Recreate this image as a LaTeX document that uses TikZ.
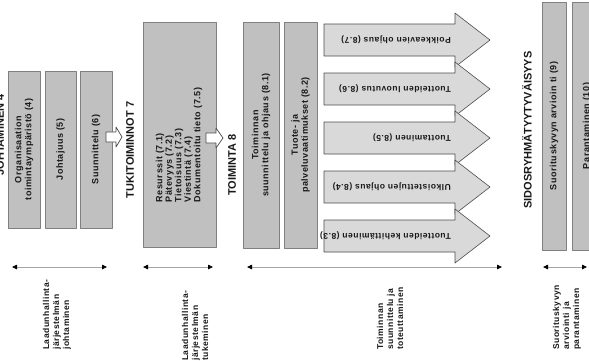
\documentclass[tikz,border=0pt]{standalone}
\usepackage{fontspec}
\setmainfont{Liberation Sans}
\newfontfamily\spacedfont{Liberation Sans}[LetterSpace=6]
\usetikzlibrary{arrows.meta}
\definecolor{boxgray}{RGB}{192,192,192}
\definecolor{arrowgray}{RGB}{217,217,217}
\definecolor{edgegray}{RGB}{128,128,128}
\definecolor{inkgray}{RGB}{25,25,25}

\begin{document}
\begin{tikzpicture}[line cap=round,line join=round,x=1pt,y=-1pt,
  box/.style={draw=edgegray,fill=boxgray,line width=0.9pt,rotate=90,inner sep=1pt,
    align=center,text=inkgray,font=\spacedfont\fontsize{9}{10}\selectfont\bfseries},
  heading/.style={rotate=90,inner sep=0pt,text=inkgray,font=\fontsize{11}{13}\selectfont\bfseries},
  inarrow/.style={rotate=180,anchor=west,inner sep=0pt,text=inkgray,font=\spacedfont\fontsize{8.5}{10}\selectfont\bfseries},
  foot/.style={rotate=90,anchor=west,inner sep=0pt,align=left,text=inkgray,font=\spacedfont\fontsize{8.5}{10}\selectfont\bfseries},
  bigarrow/.style={draw=black!70,fill=arrowgray,line width=0.6pt},
  smallarrow/.style={draw=black!70,fill=white,line width=0.7pt},
  span/.style={{Triangle[length=5pt,width=4.5pt,color=black]}-{Triangle[length=5pt,width=4.5pt,color=black]},draw=gray!70,line width=0.8pt}]
\useasboundingbox (0,0) rectangle (589,360);
\clip (0,0) rectangle (589,360);
% JOHTAMINEN 4
\node[heading] (hjoh) at (0,135) {JOHTAMINEN 4};
\node[box,minimum width=157pt,minimum height=32pt] (org) at (24,149.5) {Organisaation\\toimintaympäristö (4)};
\node[box,minimum width=157pt,minimum height=31pt] (joht) at (60.5,149.5) {Johtajuus (5)};
\node[box,minimum width=157pt,minimum height=32pt] (suun) at (96,149.5) {Suunnittelu (6)};
\draw[smallarrow] (106,132)-- (116,132)-- (116,127)-- (122,137)-- (116,147)-- (116,142)-- (106,142)-- cycle;
% TUKITOIMINNOT 7
\node[heading] (htuki) at (130,150) {TUKITOIMINNOT 7};
\node[box,minimum width=225pt,minimum height=73pt] (tuki) at (179.5,134.5) {};
\node[rotate=90,align=left,inner sep=0pt,text=inkgray,font=\spacedfont\fontsize{9}{9.5}\selectfont\bfseries] (tukitxt) at (179,145) {Resurssit (7.1)\\Pätevyys (7.2)\\Tietoisuus (7.3)\\Viestintä (7.4)\\Dokumentoitu tieto (7.5)};
\draw[smallarrow] (206,133)-- (216,133)-- (216,128)-- (223,138)-- (216,148)-- (216,143)-- (206,143)-- cycle;
% TOIMINTA 8
\node[heading] (htoim) at (232,165) {TOIMINTA 8};
\node[box,minimum width=226pt,minimum height=36pt] (ohj) at (261,135) {Toiminnan\\suunnittelu ja ohjaus (8.1)};
\node[box,minimum width=226pt,minimum height=33pt] (vaat) at (300.5,135) {Tuote- ja\\palveluvaatimukset (8.2)};
\draw[bigarrow] (324,24)-- (455,24)-- (455,13)-- (490,40)-- (455,67)-- (455,56)-- (324,56)-- cycle;
\node[inarrow] (poik) at (451,40) {Poikkeavien ohjaus (8.7)};
\draw[bigarrow] (324,73)-- (455,73)-- (455,62)-- (490,89)-- (455,116)-- (455,105)-- (324,105)-- cycle;
\node[inarrow] (luov) at (451,89) {Tuotteiden luovutus (8.6)};
\draw[bigarrow] (324,122)-- (455,122)-- (455,111)-- (490,138)-- (455,165)-- (455,154)-- (324,154)-- cycle;
\node[inarrow] (tuot) at (451,138) {Tuottaminen (8.5)};
\draw[bigarrow] (324,171)-- (455,171)-- (455,160)-- (490,187)-- (455,214)-- (455,203)-- (324,203)-- cycle;
\node[inarrow] (ulko) at (451,187) {Ulkoistettujen ohjaus (8.4)};
\draw[bigarrow] (324,220)-- (455,220)-- (455,209)-- (490,236)-- (455,263)-- (455,252)-- (324,252)-- cycle;
\node[inarrow] (keh) at (451,236) {Tuotteiden kehittäminen (8.3)};
% SIDOSRYHMÄTYYTYVÄISYYS
\node[heading] (hsido) at (527,130) {SIDOSRYHMÄTYYTYVÄISYYS};
\node[box,minimum width=248pt,minimum height=24pt] (arv) at (554,126) {Suorituskyvyn arvioin ti (9)};
\node[box,minimum width=248pt,minimum height=30pt] (par) at (587,126) {Parantaminen (10)};
% spans
\coordinate (s1a) at (12,267);
\coordinate (s1b) at (107,267);
\coordinate (s2a) at (143,267);
\coordinate (s2b) at (213,267);
\coordinate (s3a) at (247,267);
\coordinate (s3b) at (502,267);
\coordinate (s4a) at (543,267);
\coordinate (s4b) at (587,267);
\draw[span] (s1a)-- (s1b);
\draw[span] (s2a)-- (s2b);
\draw[span] (s3a)-- (s3b);
\draw[span] (s4a)-- (s4b);
\node[foot] (f1) at (57,350) {Laadunhallinta-\\järjestelmän\\johtaminen};
\node[foot] (f2) at (195,361) {Laadunhallinta-\\järjestelmän\\tukeminen};
\node[foot] (f3) at (390,350) {Toiminnan\\suunnittelu ja\\toteuttaminen};
\node[foot] (f4) at (567,350) {Suorituskyvyn\\arviointi ja\\parantaminen};
\end{tikzpicture}
\end{document}
